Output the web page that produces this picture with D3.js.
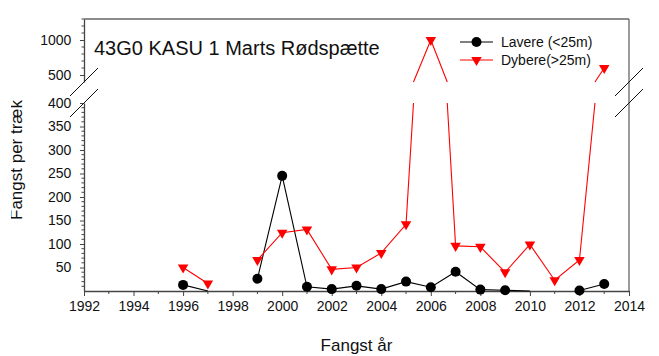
<!DOCTYPE html>
<html>
<head>
<meta charset="utf-8">
<script src="https://cdn.jsdelivr.net/npm/d3@7"></script>
<style>
  html, body { margin: 0; padding: 0; background: #fff; }
  svg { display: block; font-family: Arial, "Liberation Sans", sans-serif; }
</style>
</head>
<body>
<svg id="chart" width="659" height="356"></svg>
<script>
// Catch per haul, 43G0 KASU 1 (March), plaice
const years = [1996, 1997, 1998, 1999, 2000, 2001, 2002, 2003, 2004, 2005, 2006, 2007, 2008, 2009, 2010, 2011, 2012, 2013];
const lavere = [13, 0, null, 26, 245, 9, 4, 11, 4, 20, 8, 41, 3, 1.5, 0, null, 1, 15];
const dybere = [50, 16, null, 66, 124, 131, 46, 50, 81, 142, 1000, 96, 94, 40, 99, 23, 66, 600];
const seriesNames = ["Lavere (<25m)", "Dybere(>25m)"];
const xTicks = d3.range(1992, 2015, 2);
const yTicksLow = [50, 100, 150, 200, 250, 300, 350, 400];
const yTicksHigh = [500, 1000];
const titleText = "43G0 KASU 1 Marts Rødspætte";
const xTitle = "Fangst år";
const yTitle = "Fangst per træk";

const svg = d3.select("#chart");
const L = 84, R = 629, B = 291, T = 19;
const breakVal = 400;

const x = d3.scaleLinear().domain([1992, 2014]).range([L, R]);
const yLow = d3.scaleLinear().domain([0, breakVal]).range([B, 103]);
const yHigh = d3.scaleLinear().domain([breakVal, 1300]).range([82, T]);
const yOf = v => v <= breakVal ? yLow(v) : yHigh(v);

const axisColor = "#444";
const fmt = d3.format("d");

// frame: top and right edges
svg.append("line").attr("x1", L).attr("x2", R).attr("y1", T).attr("y2", T)
  .attr("stroke", "#666").attr("stroke-width", 1.3);
svg.append("line").attr("x1", R).attr("x2", R).attr("y1", T).attr("y2", B)
  .attr("stroke", "#666").attr("stroke-width", 1.3);

// bottom axis
const xAxis = d3.axisBottom(x).tickValues(xTicks).tickFormat(fmt).tickSize(5).tickSizeOuter(0);
const gx = svg.append("g").attr("transform", `translate(0,${B})`).call(xAxis);
gx.select(".domain").attr("stroke", axisColor).attr("stroke-width", 1.3);
gx.selectAll(".tick line").attr("stroke", axisColor);
gx.selectAll("text").attr("font-size", 14).attr("fill", "#111").attr("dy", "0.85em")
  .attr("font-family", "Arial, 'Liberation Sans', sans-serif");
// minor x ticks on odd years
svg.append("g").selectAll("line").data(d3.range(1993, 2014, 2)).join("line")
  .attr("x1", d => x(d)).attr("x2", d => x(d)).attr("y1", B).attr("y2", B + 3)
  .attr("stroke", axisColor);

// left axis, lower segment
const gyl = svg.append("g").attr("transform", `translate(${L},0)`)
  .call(d3.axisLeft(yLow).tickValues(yTicksLow).tickFormat(fmt).tickSize(4).tickSizeOuter(0));
gyl.select(".domain").attr("stroke", axisColor).attr("stroke-width", 1.3);
// left axis, upper segment
const gyh = svg.append("g").attr("transform", `translate(${L},0)`)
  .call(d3.axisLeft(yHigh).tickValues(yTicksHigh).tickFormat(fmt).tickSize(4).tickSizeOuter(0));
gyh.select(".domain").attr("stroke", axisColor).attr("stroke-width", 1.3);
[gyl, gyh].forEach(g => {
  g.selectAll(".tick line").attr("stroke", axisColor);
  g.selectAll("text").attr("font-size", 14).attr("fill", "#111").attr("dx", "-0.4em")
    .attr("font-family", "Arial, 'Liberation Sans', sans-serif");
});
// minor y ticks
svg.append("g").selectAll("line").data(d3.range(10, 400, 10).filter(v => v % 50 !== 0)).join("line")
  .attr("x1", L - 2.5).attr("x2", L).attr("y1", d => yLow(d)).attr("y2", d => yLow(d))
  .attr("stroke", axisColor);
svg.append("g").selectAll("line").data(d3.range(500, 1301, 100).filter(v => v % 500 !== 0)).join("line")
  .attr("x1", L - 2.5).attr("x2", L).attr("y1", d => yHigh(d)).attr("y2", d => yHigh(d))
  .attr("stroke", axisColor);

// axis break marks
const brk = svg.append("g").attr("stroke", "#111").attr("stroke-width", 1);
[L, R].forEach(cx => {
  [yHigh(breakVal), yLow(breakVal)].forEach(cy => {
    brk.append("line").attr("x1", cx - 14).attr("y1", cy + 14).attr("x2", cx + 14).attr("y2", cy - 14);
  });
});

// line segments split across the broken axis
function segments(vals) {
  const segs = [];
  let cur = null;
  for (let i = 0; i < years.length; i++) {
    const v = vals[i];
    if (v == null) { cur = null; continue; }
    if (cur && i > 0 && vals[i - 1] != null) {
      const v0 = vals[i - 1], x0 = years[i - 1], x1 = years[i];
      const crossUp = v0 <= breakVal && v > breakVal;
      const crossDown = v0 > breakVal && v <= breakVal;
      if (crossUp || crossDown) {
        const t = (breakVal - v0) / (v - v0);
        const xc = x0 + t * (x1 - x0);
        if (crossUp) {
          cur.push([x(xc), yLow(breakVal)]);
          cur = [[x(xc), yHigh(breakVal)]];
        } else {
          cur.push([x(xc), yHigh(breakVal)]);
          cur = [[x(xc), yLow(breakVal)]];
        }
        segs.push(cur);
      }
    }
    if (!cur) { cur = []; segs.push(cur); }
    cur.push([x(years[i]), yOf(v)]);
  }
  return segs.filter(s => s.length > 1);
}

const line = d3.line();
function drawSeries(vals, color) {
  svg.append("g").selectAll("path").data(segments(vals)).join("path")
    .attr("d", line).attr("fill", "none").attr("stroke", color).attr("stroke-width", 1.1);
}
drawSeries(lavere, "#000");
drawSeries(dybere, "#ff0000");

const pts = (vals) => years.map((yr, i) => ({ yr, v: vals[i] })).filter(d => d.v != null && d.v > 0);
const tri = d3.symbol().type(d3.symbolTriangle).size(48);

svg.append("g").selectAll("circle").data(pts(lavere)).join("circle")
  .attr("cx", d => x(d.yr)).attr("cy", d => yOf(d.v)).attr("r", 5).attr("fill", "#000");
svg.append("g").selectAll("path").data(pts(dybere)).join("path")
  .attr("d", tri).attr("fill", "#ff0000")
  .attr("transform", d => `translate(${x(d.yr)},${yOf(d.v)}) rotate(180)`);

// title inside the plot
svg.append("text").attr("x", 94).attr("y", 55).attr("font-size", 20).attr("fill", "#111").text(titleText);

// legend
const leg = svg.append("g");
[{ name: seriesNames[0], color: "#000", y: 42, sym: "c" }, { name: seriesNames[1], color: "#ff0000", y: 60, sym: "t" }]
  .forEach(e => {
    leg.append("line").attr("x1", 460).attr("x2", 493).attr("y1", e.y).attr("y2", e.y)
      .attr("stroke", e.color).attr("stroke-width", 1.1);
    if (e.sym === "c") {
      leg.append("circle").attr("cx", 476.5).attr("cy", e.y).attr("r", 5).attr("fill", e.color);
    } else {
      leg.append("path").attr("d", tri).attr("fill", e.color)
        .attr("transform", `translate(476.5,${e.y}) rotate(180)`);
    }
    leg.append("text").attr("x", 501).attr("y", e.y + 5).attr("font-size", 14).attr("fill", "#111").text(e.name);
  });

// axis titles; the vertical one is trimmed along its left edge
svg.append("defs").append("clipPath").attr("id", "ytitle-clip")
  .append("rect").attr("x", 11).attr("y", 0).attr("width", 40).attr("height", 356);
svg.append("text").attr("x", (L + R) / 2).attr("y", 351).attr("text-anchor", "middle")
  .attr("font-size", 17).attr("fill", "#111").text(xTitle);
svg.append("g").attr("clip-path", "url(#ytitle-clip)")
  .append("text").attr("transform", "translate(22,160) rotate(-90)").attr("text-anchor", "middle")
  .attr("font-size", 17).attr("fill", "#111").text(yTitle);
</script>
</body>
</html>
